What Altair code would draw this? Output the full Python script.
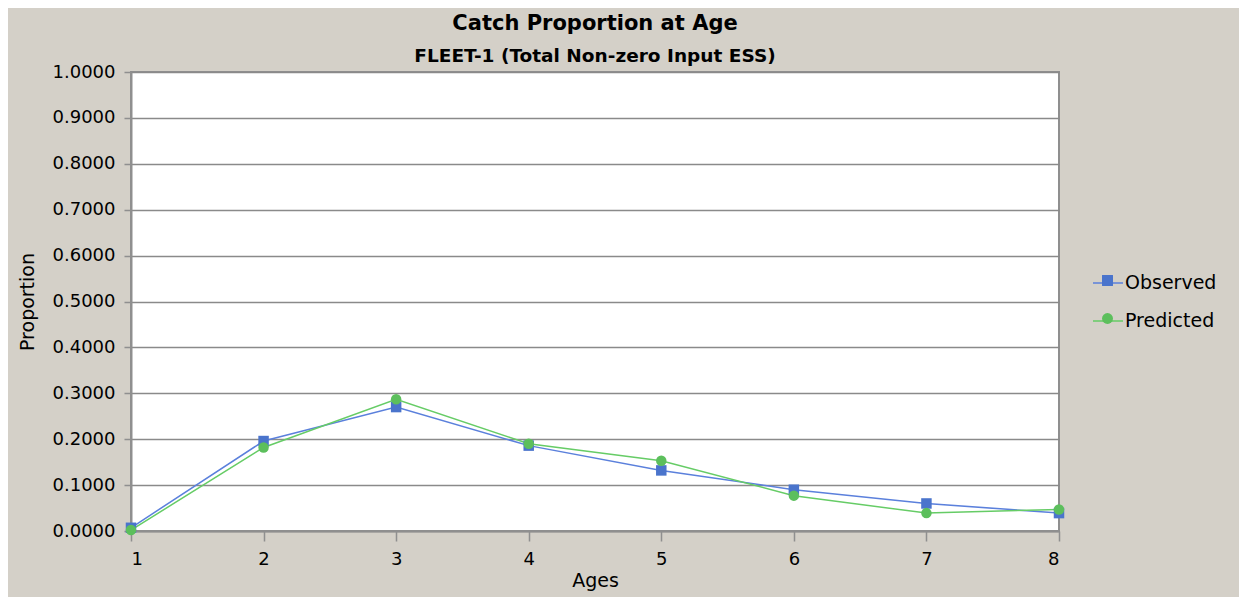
import altair as alt
import pandas as pd

ages = [1, 2, 3, 4, 5, 6, 7, 8]
observed = [0.007, 0.196, 0.270, 0.186, 0.132, 0.090, 0.060, 0.039]
predicted = [0.002, 0.182, 0.287, 0.190, 0.153, 0.077, 0.039, 0.047]
series_names = ["Observed", "Predicted"]
y_ticks = [round(i * 0.1, 1) for i in range(11)]

line_colors = ["#5b80dc", "#66cc66"]
marker_colors = ["#4a74cc", "#5cbf5c"]
marker_shapes = ["square", "circle"]

# marker legend keys get a trailing space so that Vega-Lite keeps two legends
marker_names = [s + " " for s in series_names]

rows = []
for a, o, p in zip(ages, observed, predicted):
    rows.append({"age": a, "value": o, "series": series_names[0], "marker": marker_names[0]})
    rows.append({"age": a, "value": p, "series": series_names[1], "marker": marker_names[1]})
df = pd.DataFrame(rows)

FONT = "DejaVu Sans"

x = alt.X(
    "age:Q",
    scale=alt.Scale(domain=[1, 8], nice=False, zero=False),
    axis=alt.Axis(values=ages, format="d", title="Ages", grid=False,
                  tickSize=10, labelPadding=9, titlePadding=3),
)
y = alt.Y(
    "value:Q",
    scale=alt.Scale(domain=[0, 1], nice=False),
    axis=alt.Axis(values=y_ticks, format=".4f", title="Proportion",
                  tickSize=7, labelPadding=9, titlePadding=15),
)

base = alt.Chart(df)

lines = base.mark_line(strokeWidth=1.5).encode(
    x=x, y=y,
    color=alt.Color(
        "series:N",
        scale=alt.Scale(domain=series_names, range=line_colors),
        legend=alt.Legend(title=None, orient="none", legendX=961, legendY=195,
                          symbolType="stroke", symbolSize=900, symbolStrokeWidth=1.5,
                          rowPadding=12, labelFont=FONT, labelFontSize=19,
                          labelColor="#000000", labelOffset=1),
    ),
)

mk_legend = alt.Legend(title=None, orient="none", legendX=971, legendY=203,
                       symbolSize=120, rowPadding=27, labelExpr="''",
                       labelFontSize=1, symbolStrokeWidth=0)
points = base.mark_point(filled=True, opacity=1, size=110).encode(
    x=x, y=y,
    fill=alt.Fill("marker:N", scale=alt.Scale(domain=marker_names, range=marker_colors),
                  legend=mk_legend),
    shape=alt.Shape("marker:N", scale=alt.Scale(domain=marker_names, range=marker_shapes),
                    legend=mk_legend),
)

chart = (
    alt.layer(lines, points)
    .properties(
        width=928,
        height=459,
        title=alt.Title("Catch Proportion at Age",
                        subtitle="FLEET-1 (Total Non-zero Input ESS)"),
        autosize=alt.AutoSizeParams(type="none"),
        padding={"left": 123, "top": 64, "right": 180, "bottom": 66},
        background="#D4D0C8",
    )
    .configure_view(fill="white", stroke="#8f8f8f", strokeWidth=2)
    .configure_title(font=FONT, fontSize=21, fontWeight="bold", color="#000000",
                     subtitleFont=FONT, subtitleFontSize=18.5, subtitleFontWeight="bold",
                     subtitleColor="#000000", subtitlePadding=13, offset=-2, anchor="middle")
    .configure_axis(labelFont=FONT, labelFontSize=18, labelColor="#000000",
                    titleFont=FONT, titleFontSize=19, titleFontWeight="normal",
                    titleColor="#000000", domainColor="#8f8f8f", domainWidth=2,
                    tickColor="#8f8f8f", tickWidth=1.5, gridColor="#8a8a8a", gridWidth=1.5)
)

chart.save("out.html", embed_options={"renderer": "svg", "actions": False})
